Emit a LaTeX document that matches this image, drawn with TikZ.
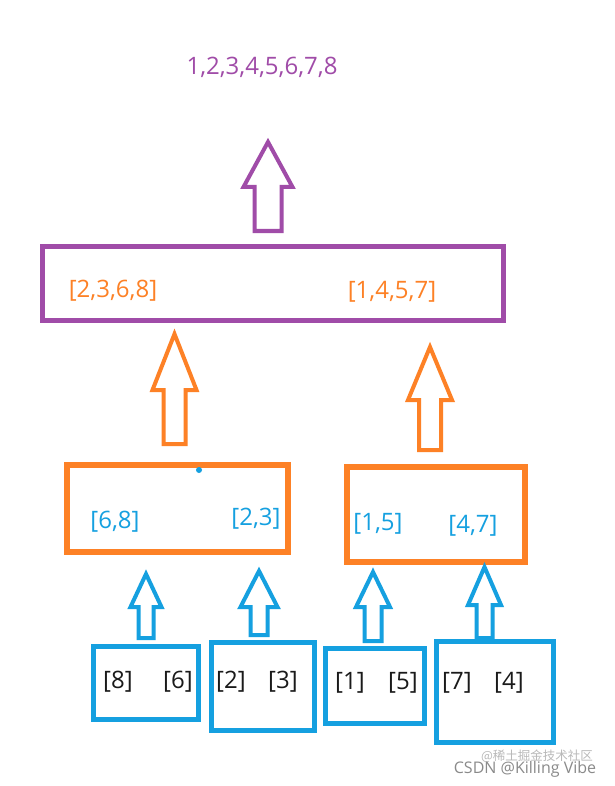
\documentclass[tikz,border=0pt]{standalone}
\usepackage{fontspec}
\setmainfont{Open Sans}
\newfontfamily\cjk{Noto Sans CJK SC}
\definecolor{mpurple}{HTML}{A04CA8}
\definecolor{morange}{HTML}{FD8126}
\definecolor{mblue}{HTML}{15A0E0}
\definecolor{mdark}{HTML}{1A1A1A}
\definecolor{mgray}{HTML}{8A8A8A}
% block arrow: style, tip x, tip y, head half width, head base y, shaft half width, bottom y
\newcommand{\blockarr}[7]{%
  \draw[#1] (#2,#3) -- (#2+#4,#5) -- (#2+#6,#5) -- (#2+#6,#7) -- (#2-#6,#7) -- (#2-#6,#5) -- (#2-#4,#5) -- cycle;}
\begin{document}
\begin{tikzpicture}[x=1pt,y=-1pt,
  frame/.style={draw=#1, rectangle, inner sep=0pt, line width=5pt},
  parr/.style={draw=mpurple, line width=4pt, miter limit=10},
  oarr/.style={draw=morange, line width=4pt, miter limit=10},
  barr/.style={draw=mblue, line width=4pt, miter limit=10},
  lbl/.style={font=\fontsize{24}{28}\selectfont, anchor=base, inner sep=0pt, text=#1}]
\useasboundingbox[fill=white] (0,0) rectangle (614,786);

% title
\node[lbl=mpurple] (title) at (262,75) {1,2,3,4,5,6,7,8};
\blockarr{parr}{268}{142}{24.5}{187}{13.5}{231}

% purple box
\node[frame=mpurple, minimum width=461pt, minimum height=74pt] (pbox) at (273,283.5) {};
\node[lbl=morange] (l2368) at (113,297) {[2,3,6,8]};
\node[lbl=morange] (l1457) at (392,298) {[1,4,5,7]};

% orange arrows
\blockarr{oarr}{174.5}{334}{22}{390}{11}{444}
\blockarr{oarr}{430}{347}{22}{400}{11}{450}

% orange boxes
\node[frame=morange, line width=5.5pt, minimum width=221pt, minimum height=87pt] (obox1) at (177.5,508.5) {};
\node[frame=morange, line width=5.5pt, minimum width=178pt, minimum height=95pt] (obox2) at (436,514.5) {};
\node[lbl=mblue] (l68) at (115,528) {[6,8]};
\node[lbl=mblue] (l23) at (256,525) {[2,3]};
\node[lbl=mblue] (l15) at (378,530) {[1,5]};
\node[lbl=mblue] (l47) at (473,532) {[4,7]};
\fill[mblue] (199,470) circle (3pt);

% blue arrows
\blockarr{barr}{146}{574}{15.5}{607}{7.5}{638}
\blockarr{barr}{259}{571}{18.5}{607}{8.5}{635}
\blockarr{barr}{373}{572}{17}{607}{8.5}{641}
\blockarr{barr}{484.5}{567}{16.5}{605}{8}{638}

% blue boxes
\node[frame=mblue, minimum width=105pt, minimum height=73pt] (b1) at (146,683) {};
\node[frame=mblue, minimum width=103pt, minimum height=88pt] (b2) at (263,686.5) {};
\node[frame=mblue, minimum width=99pt, minimum height=75pt] (b3) at (375,686) {};
\node[frame=mblue, minimum width=117pt, minimum height=101pt] (b4) at (495,692) {};
\node[lbl=mdark] (t8) at (118,688) {[8]};
\node[lbl=mdark] (t6) at (178,688) {[6]};
\node[lbl=mdark] (t2) at (231,688) {[2]};
\node[lbl=mdark] (t3) at (283,688) {[3]};
\node[lbl=mdark] (t1) at (350,689) {[1]};
\node[lbl=mdark] (t5) at (403,689) {[5]};
\node[lbl=mdark] (t7) at (457,689) {[7]};
\node[lbl=mdark] (t4) at (509,689) {[4]};

% watermark
\node[anchor=base, inner sep=0pt, text=mgray!60, font=\cjk\fontsize{12.5}{14}\selectfont] (wm1) at (537,760) {@稀土掘金技术社区};
\node[anchor=base, inner sep=0pt, text=mgray, font=\fontsize{16}{18}\selectfont] (wm2) at (525,773) {CSDN @Killing Vibe};
\end{tikzpicture}
\end{document}
